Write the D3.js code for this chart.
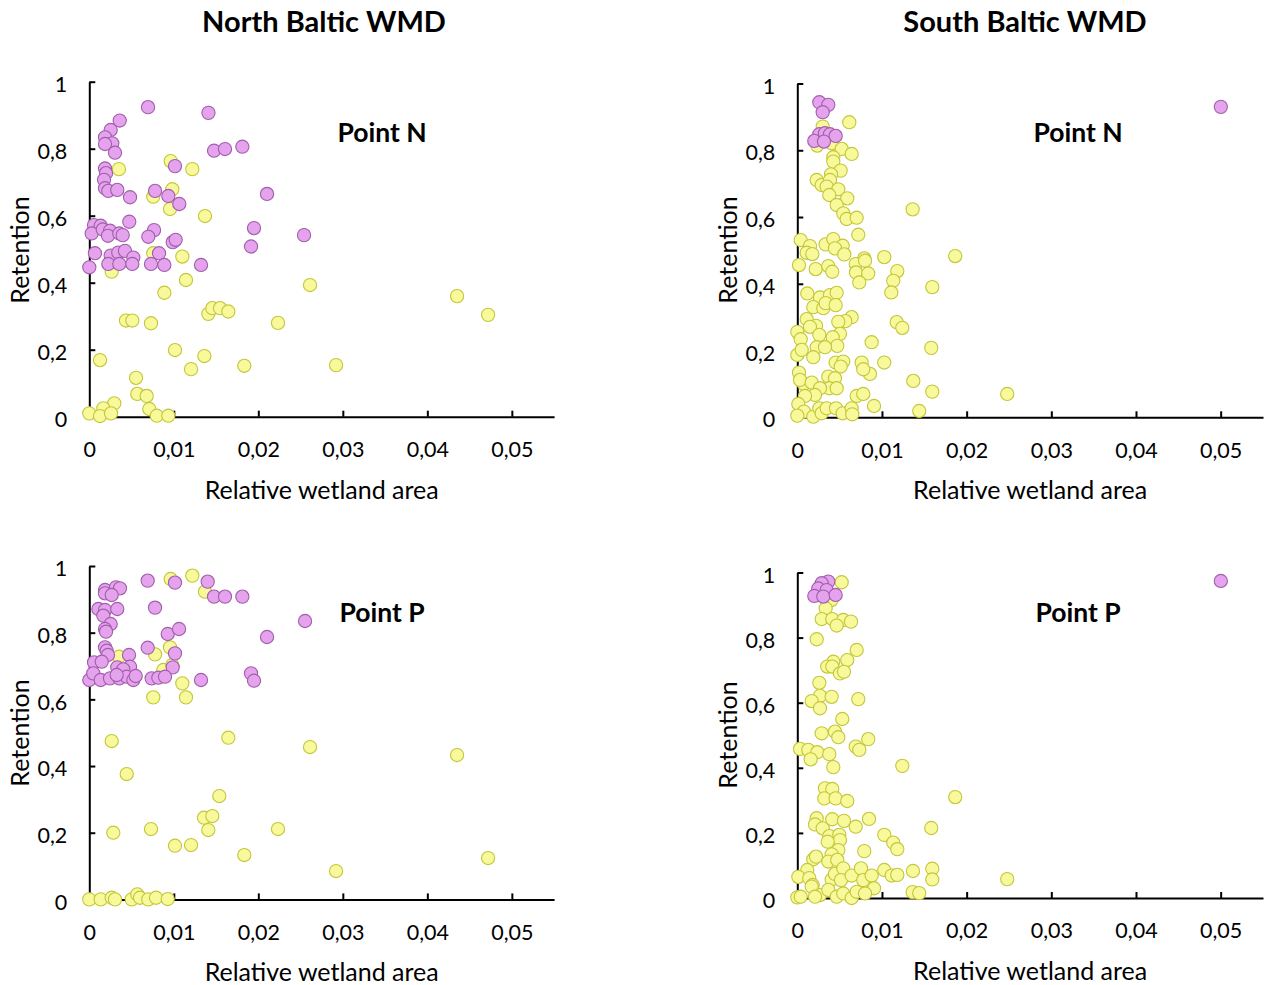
<!DOCTYPE html>
<html>
<head>
<meta charset="utf-8">
<script src="https://cdn.jsdelivr.net/npm/d3@7"></script>
<style>
  html, body { margin: 0; padding: 0; background: #fff; }
  svg { display: block; font-family: Lato, "Open Sans", sans-serif; }
</style>
</head>
<body>
<svg id="chart" width="1264" height="985"></svg>
<script>
// ---------------- DATA ----------------
const xTicks = [0, 0.01, 0.02, 0.03, 0.04, 0.05];
const xTickLabels = ["0", "0,01", "0,02", "0,03", "0,04", "0,05"];
const yTicks = [0, 0.2, 0.4, 0.6, 0.8, 1];
const yTickLabels = ["0", "0,2", "0,4", "0,6", "0,8", "1"];

const groupTitles = ["North Baltic WMD", "South Baltic WMD"];
const panelLabels = ["Point N", "Point N", "Point P", "Point P"];
const xAxisTitle = "Relative wetland area";
const yAxisTitle = "Retention";

// North Baltic, Point N
const northN_purple = [[0.00695,0.924],[0.0141,0.907],[0.0036,0.884],[0.00253,0.856],[0.00186,0.834],[0.00272,0.816],[0.00186,0.814],[0.00304,0.788],[0.01476,0.794],[0.01606,0.799],[0.01811,0.806],[0.01014,0.748],[0.00186,0.741],[0.00198,0.727],[0.00174,0.707],[0.00186,0.682],[0.00225,0.674],[0.00331,0.677],[0.00482,0.655],[0.00778,0.674],[0.00935,0.659],[0.01065,0.635],[0.01949,0.563],[0.00473,0.582],[0.00056,0.572],[0.00135,0.570],[0.00028,0.547],[0.00159,0.559],[0.00245,0.555],[0.00221,0.540],[0.00355,0.547],[0.00395,0.542],[0.00766,0.557],[0.00698,0.537],[0.00987,0.521],[0.01022,0.528],[0.01914,0.508],[0.00067,0.488],[0.00253,0.481],[0.00343,0.490],[0.00422,0.495],[0.00521,0.475],[0.00825,0.488],[0.0,0.446],[0.00225,0.456],[0.00355,0.456],[0.00509,0.456],[0.0073,0.456],[0.00888,0.453],[0.01322,0.453],[0.02103,0.665],[0.02541,0.542]];
const northN_yellow = [[0.00963,0.763],[0.00351,0.739],[0.01219,0.739],[0.00982,0.679],[0.00757,0.657],[0.00955,0.620],[0.01369,0.599],[0.00757,0.488],[0.01101,0.478],[0.00265,0.433],[0.01144,0.408],[0.00888,0.370],[0.00434,0.287],[0.00509,0.287],[0.0073,0.279],[0.01408,0.307],[0.01456,0.324],[0.01547,0.324],[0.01645,0.314],[0.01014,0.199],[0.01361,0.181],[0.01204,0.142],[0.01834,0.152],[0.00127,0.169],[0.00553,0.116],[0.00568,0.068],[0.00679,0.062],[0.00296,0.040],[0.00166,0.025],[0.0,0.010],[0.00127,0.002],[0.00257,0.010],[0.0071,0.023],[0.00798,0.003],[0.00935,0.003],[0.02233,0.280],[0.02612,0.393],[0.02920,0.154],[0.04352,0.360],[0.04719,0.304]];

// South Baltic, Point N
const southN_purple = [[0.0026,0.944],[0.00366,0.936],[0.0030,0.914],[0.0026,0.848],[0.00327,0.851],[0.00386,0.848],[0.00453,0.843],[0.00201,0.828],[0.00315,0.826],[0.05002,0.930]];
const southN_yellow = [[0.00614,0.884],[0.0030,0.871],[0.00236,0.814],[0.00406,0.821],[0.00524,0.804],[0.00642,0.789],[0.00425,0.779],[0.00425,0.766],[0.00512,0.739],[0.00398,0.728],[0.00229,0.711],[0.00288,0.696],[0.00386,0.711],[0.00347,0.691],[0.00484,0.683],[0.00378,0.666],[0.0059,0.656],[0.00465,0.636],[0.00543,0.611],[0.00583,0.594],[0.00701,0.598],[0.0004,0.531],[0.0072,0.547],[0.0015,0.513],[0.00335,0.518],[0.00425,0.534],[0.00536,0.514],[0.00111,0.493],[0.00177,0.489],[0.00445,0.506],[0.00555,0.488],[0.00791,0.476],[0.01027,0.480],[0.0002,0.456],[0.00217,0.444],[0.00366,0.453],[0.00413,0.436],[0.0069,0.459],[0.008,0.469],[0.00693,0.434],[0.00838,0.431],[0.00732,0.404],[0.01181,0.438],[0.01133,0.409],[0.0111,0.374],[0.00118,0.371],[0.00268,0.359],[0.00386,0.366],[0.00465,0.373],[0.00189,0.330],[0.00307,0.327],[0.00335,0.342],[0.00453,0.336],[0.00111,0.294],[0.00221,0.274],[0.0015,0.271],[0.00642,0.300],[0.00567,0.288],[0.00484,0.286],[0.01174,0.285],[0.0124,0.268],[0.0,0.256],[0.0004,0.234],[0.0026,0.247],[0.00504,0.250],[0.00418,0.240],[0.00472,0.214],[0.00878,0.225],[0.00229,0.210],[0.00327,0.210],[0.0,0.187],[0.00189,0.180],[0.00052,0.202],[0.00453,0.164],[0.00543,0.167],[0.00512,0.152],[0.0076,0.164],[0.00858,0.130],[0.00779,0.144],[0.01027,0.164],[0.0002,0.134],[0.00079,0.100],[0.00032,0.112],[0.0017,0.104],[0.00366,0.122],[0.00445,0.117],[0.00378,0.087],[0.00465,0.087],[0.00268,0.087],[0.00209,0.067],[0.00091,0.064],[0.00701,0.064],[0.00779,0.070],[0.00906,0.034],[0.00012,0.040],[0.00079,0.017],[0.0,0.005],[0.00189,0.002],[0.0026,0.027],[0.00288,0.012],[0.00347,0.027],[0.00457,0.027],[0.00536,0.012],[0.00642,0.027],[0.00649,0.009],[0.01362,0.623],[0.01865,0.483],[0.01594,0.390],[0.01582,0.208],[0.0137,0.109],[0.01594,0.077],[0.02479,0.070],[0.0144,0.019]];

// North Baltic, Point P
const northP_purple = [[0.00691,0.956],[0.01014,0.950],[0.01401,0.953],[0.00186,0.928],[0.00316,0.936],[0.00363,0.933],[0.00186,0.918],[0.00265,0.913],[0.01476,0.908],[0.01606,0.908],[0.01811,0.908],[0.00107,0.871],[0.00186,0.868],[0.00331,0.871],[0.00778,0.875],[0.00166,0.851],[0.00253,0.826],[0.00186,0.811],[0.00198,0.803],[0.00928,0.796],[0.01062,0.811],[0.00186,0.756],[0.00206,0.746],[0.00221,0.733],[0.00691,0.755],[0.01014,0.738],[0.0047,0.733],[0.00056,0.711],[0.00147,0.713],[0.00331,0.696],[0.00482,0.698],[0.00402,0.690],[0.00987,0.696],[0.01914,0.678],[0.01949,0.656],[0.01322,0.658],[0.0,0.658],[0.00047,0.678],[0.00135,0.658],[0.00245,0.663],[0.00355,0.663],[0.00443,0.668],[0.00521,0.658],[0.00549,0.670],[0.00738,0.663],[0.00817,0.665],[0.00896,0.668],[0.00324,0.673],[0.02103,0.787],[0.02553,0.835]];
const northP_yellow = [[0.00963,0.961],[0.01219,0.971],[0.01369,0.923],[0.00351,0.728],[0.00778,0.735],[0.00955,0.756],[0.00876,0.688],[0.00982,0.703],[0.01101,0.648],[0.00757,0.606],[0.01144,0.606],[0.00265,0.475],[0.01645,0.485],[0.00443,0.376],[0.01538,0.310],[0.01357,0.245],[0.01456,0.250],[0.01408,0.208],[0.00284,0.200],[0.0073,0.211],[0.01014,0.161],[0.01204,0.163],[0.01834,0.133],[0.0,0.0],[0.00135,0.0],[0.00265,0.005],[0.00304,0.0],[0.00502,0.0],[0.00568,0.015],[0.006,0.005],[0.00698,0.0],[0.00789,0.005],[0.00928,0.001],[0.02612,0.457],[0.02233,0.211],[0.0292,0.085],[0.04352,0.433],[0.04719,0.124]];

// South Baltic, Point P
const southP_purple = [[0.00366,0.972],[0.00288,0.967],[0.00248,0.951],[0.00347,0.946],[0.00201,0.928],[0.00307,0.926],[0.00453,0.931],[0.05002,0.974]];
const southP_yellow = [[0.00524,0.970],[0.00406,0.916],[0.00335,0.890],[0.00288,0.857],[0.00413,0.857],[0.00543,0.854],[0.00634,0.849],[0.00465,0.837],[0.00229,0.795],[0.00701,0.762],[0.0059,0.731],[0.00425,0.726],[0.00354,0.711],[0.00413,0.711],[0.00504,0.690],[0.00551,0.695],[0.0026,0.661],[0.00268,0.621],[0.00406,0.618],[0.0017,0.605],[0.0072,0.611],[0.00268,0.583],[0.00531,0.550],[0.00288,0.506],[0.00445,0.511],[0.00484,0.494],[0.00838,0.488],[0.0069,0.465],[0.00732,0.455],[0.00032,0.458],[0.0013,0.455],[0.00236,0.448],[0.00378,0.442],[0.00158,0.426],[0.00425,0.402],[0.0124,0.406],[0.00327,0.337],[0.00413,0.335],[0.00319,0.306],[0.00453,0.306],[0.0059,0.298],[0.00229,0.245],[0.00209,0.226],[0.003,0.214],[0.00413,0.242],[0.00551,0.237],[0.0069,0.219],[0.00847,0.243],[0.00378,0.190],[0.00496,0.194],[0.00504,0.178],[0.00359,0.173],[0.00484,0.147],[0.00406,0.134],[0.00189,0.119],[0.00221,0.127],[0.00366,0.112],[0.00472,0.117],[0.00791,0.144],[0.01027,0.194],[0.01133,0.170],[0.01181,0.150],[0.00118,0.086],[0.00012,0.065],[0.00142,0.061],[0.00182,0.040],[0.00406,0.057],[0.00445,0.074],[0.00543,0.091],[0.00516,0.055],[0.00642,0.069],[0.00752,0.091],[0.00779,0.055],[0.00878,0.069],[0.01027,0.086],[0.01115,0.069],[0.01181,0.071],[0.00906,0.030],[0.0,0.002],[0.0004,0.004],[0.0017,0.035],[0.00268,0.009],[0.00366,0.025],[0.00465,0.004],[0.00543,0.014],[0.00642,0.0],[0.00701,0.019],[0.008,0.014],[0.00209,0.004],[0.01366,0.083],[0.01594,0.090],[0.01594,0.057],[0.02479,0.058],[0.01362,0.018],[0.0144,0.015],[0.01865,0.310],[0.01582,0.215]];

// ---------------- LAYOUT ----------------
const W = 1264, H = 985;
const panels = [
  { x0: 89.3, x1: 554.1, y0: 416.7, y1: 81.7, yellow: northN_yellow, purple: northN_purple, label: panelLabels[0], lx: 382, ly: 133, ytx: 20, yty: 250 },
  { x0: 797.3, x1: 1263.0, y0: 417.3, y1: 83.5, yellow: southN_yellow, purple: southN_purple, label: panelLabels[1], lx: 1078, ly: 133, ytx: 728, yty: 250 },
  { x0: 89.3, x1: 554.1, y0: 899.4, y1: 566.0, yellow: northP_yellow, purple: northP_purple, label: panelLabels[2], lx: 382, ly: 613, ytx: 20, yty: 733 },
  { x0: 797.3, x1: 1263.0, y0: 898.0, y1: 572.5, yellow: southP_yellow, purple: southP_purple, label: panelLabels[3], lx: 1078, ly: 613, ytx: 728, yty: 735 }
];
const yellowFill = "#f7f99b", yellowStroke = "#c4c63a";
const purpleFill = "#e5a2ed", purpleStroke = "#a15eab";

const svg = d3.select("#chart");
svg.append("rect").attr("width", W).attr("height", H).attr("fill", "#fff");

// group titles
svg.append("text").attr("x", 324).attr("y", 32).attr("text-anchor", "middle")
  .attr("font-size", 29).attr("font-weight", "bold").text(groupTitles[0]);
svg.append("text").attr("x", 1025).attr("y", 32).attr("text-anchor", "middle")
  .attr("font-size", 29).attr("font-weight", "bold").text(groupTitles[1]);

panels.forEach(p => {
  const x = d3.scaleLinear().domain([0, 0.055]).range([p.x0, p.x1]);
  const y = d3.scaleLinear().domain([0, 1]).range([p.y0, p.y1]);
  const g = svg.append("g");

  // y axis
  const ya = g.append("g").attr("transform", `translate(${p.x0},0)`)
    .call(d3.axisLeft(y).tickValues(yTicks).tickSize(-6).tickSizeOuter(0).tickPadding(22)
      .tickFormat((d, i) => yTickLabels[i]));
  // x axis
  const xa = g.append("g").attr("transform", `translate(0,${p.y0})`)
    .call(d3.axisBottom(x).tickValues(xTicks).tickSize(-6).tickSizeOuter(0).tickPadding(25)
      .tickFormat((d, i) => xTickLabels[i]));
  [ya, xa].forEach(a => {
    a.select(".domain").attr("stroke", "#000").attr("stroke-width", 2);
    a.selectAll(".tick line").attr("stroke", "#000").attr("stroke-width", 2);
    a.selectAll(".tick text").attr("fill", "#000").attr("font-size", 21.5)
      .attr("font-family", "Lato, 'Open Sans', sans-serif");
  });
  ya.selectAll(".tick text").attr("dy", "0.45em");

  // axis titles
  g.append("text").attr("x", (p.x0 + p.x1) / 2).attr("y", p.y0 + 82)
    .attr("text-anchor", "middle").attr("font-size", 25).text(xAxisTitle);
  g.append("text").attr("transform", `translate(${p.ytx + 9},${p.yty}) rotate(-90)`)
    .attr("text-anchor", "middle").attr("font-size", 25).text(yAxisTitle);

  // panel label
  g.append("text").attr("x", p.lx).attr("y", p.ly + 9).attr("text-anchor", "middle")
    .attr("font-size", 26.5).attr("font-weight", "bold").text(p.label);

  // points: yellow first, purple on top
  g.append("g").selectAll("circle").data(p.yellow).join("circle")
    .attr("cx", d => x(d[0])).attr("cy", d => y(d[1])).attr("r", 6.6)
    .attr("fill", yellowFill).attr("stroke", yellowStroke).attr("stroke-width", 1.1);
  g.append("g").selectAll("circle").data(p.purple).join("circle")
    .attr("cx", d => x(d[0])).attr("cy", d => y(d[1])).attr("r", 6.6)
    .attr("fill", purpleFill).attr("stroke", purpleStroke).attr("stroke-width", 1.1);
});
</script>
</body>
</html>
